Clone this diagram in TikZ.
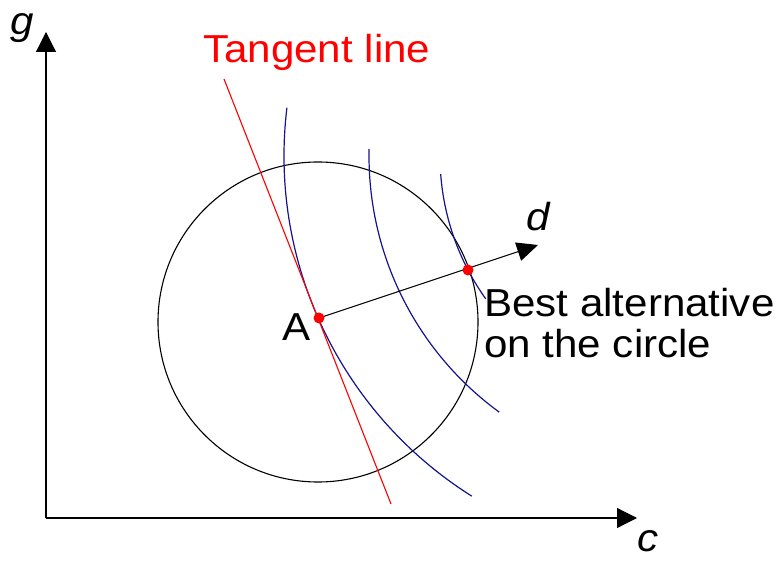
\documentclass[tikz,border=0pt]{standalone}
\usepackage{fontspec}
\setmainfont[FakeStretch=1.08]{Liberation Sans}
\usetikzlibrary{arrows.meta}
\definecolor{curveblue}{RGB}{20,20,140}
\begin{document}
\begin{tikzpicture}[x=1pt,y=1pt,
  lbl/.style={font=\fontsize{39}{41}\selectfont, inner sep=0pt, align=left},
  ilbl/.style={font=\fontsize{39}{41}\selectfont\itshape, inner sep=0pt},
  axis/.style={line width=1.2pt, -{Triangle[length=20pt,width=20pt]}},
  darrow/.style={line width=1.1pt, -{Triangle[length=21pt,width=19pt]}},
  level/.style={curveblue, line width=1.2pt},
  tangent/.style={red, line width=1.1pt},
  dot/.style={circle, fill=red, inner sep=0pt, minimum size=11pt}]
\useasboundingbox (0,0) rectangle (782,560);
% axes
\coordinate (O) at (46,42);
\coordinate (gtip) at (46,528);
\coordinate (ctip) at (637,42);
\draw[axis] (O) -- (gtip);
\draw[axis] (O) -- (ctip);
\node[ilbl] (glab) at (22,532) {g};
\node[ilbl, anchor=base] (clab) at (648,9) {c};
% circle
\coordinate (cc) at (318,238);
\draw[line width=1.1pt] (cc) circle[radius=160];
% level curves (concentric arcs)
\coordinate (lc) at (686,404);
\draw[level] (lc) ++(173.1:402) arc[start angle=173.1, end angle=237.8, radius=402];
\draw[level] (lc) ++(178.7:317) arc[start angle=178.7, end angle=233.9, radius=317];
\draw[level] (lc) ++(184.2:246) arc[start angle=184.2, end angle=215.5, radius=246];
% tangent line
\coordinate (t1) at (224,481);
\coordinate (t2) at (391,56);
\draw[tangent] (t1) -- (t2);
\node[lbl, red, anchor=base west] (tlab) at (203,497) {Tangent line};
% direction d
\coordinate (A) at (319,242);
\coordinate (dtip) at (538,315);
\draw[darrow] (A) -- (dtip);
\node[ilbl] (dlab) at (538,343) {d};
\node[dot] (Adot) at (A) {};
\node[dot] (best) at (468,290) {};
\node[lbl, anchor=base west] (Alab) at (282,219) {A};
\node[lbl, anchor=base west] (blab) at (484,202) {Best alternative\\on the circle};
\end{tikzpicture}
\end{document}
